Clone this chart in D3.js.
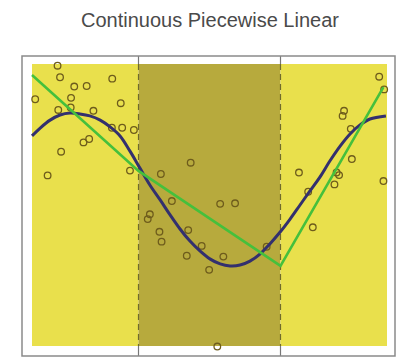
<!DOCTYPE html>
<html>
<head>
<meta charset="utf-8">
<script src="https://cdn.jsdelivr.net/npm/d3@7"></script>
<style>
  html, body { margin: 0; padding: 0; background: #ffffff; }
  svg { display: block; }
</style>
</head>
<body>
<svg id="chart" width="400" height="359"></svg>
<script>
// Observations (x, y)
const obsX = [0.072, 0.079, 0.009, 0.119, 0.154, 0.226, 0.110, 0.074, 0.109, 0.173,
              0.250, 0.225, 0.254, 0.287, 0.145, 0.161, 0.082, 0.044, 0.276, 0.363,
              0.447, 0.394, 0.530, 0.572, 0.332, 0.326, 0.359, 0.365, 0.440, 0.478,
              0.436, 0.539, 0.499, 0.661, 0.522, 0.978, 0.992, 0.879, 0.875, 0.898,
              0.901, 0.752, 0.858, 0.865, 0.990, 0.852, 0.778, 0.791];
const obsY = [9.94, 9.53, 8.75, 9.20, 9.22, 9.48, 8.80, 8.37, 8.46, 8.34,
              8.61, 7.74, 7.74, 7.66, 7.22, 7.34, 6.89, 6.05, 6.22, 6.10,
              6.50, 5.14, 5.04, 5.06, 4.67, 4.50, 4.05, 3.70, 4.11, 3.55,
              3.20, 3.17, 2.70, 3.52, -0.02, 9.55, 9.10, 8.34, 8.16, 7.70,
              6.63, 6.15, 6.15, 6.06, 5.85, 5.73, 5.47, 4.21];

// Underlying smooth function
const trueX = [0.000, 0.023, 0.051, 0.079, 0.107, 0.135, 0.163, 0.192, 0.220, 0.248,
               0.276, 0.304, 0.332, 0.361, 0.389, 0.417, 0.445, 0.473, 0.501, 0.530,
               0.558, 0.586, 0.614, 0.642, 0.670, 0.699, 0.727, 0.755, 0.783, 0.811,
               0.839, 0.868, 0.896, 0.924, 0.952, 0.997];
const trueY = [7.45, 7.73, 8.01, 8.19, 8.26, 8.23, 8.16, 8.01, 7.77, 7.45,
               6.91, 6.31, 5.71, 5.18, 4.65, 4.15, 3.72, 3.37, 3.09, 2.91,
               2.84, 2.87, 3.01, 3.26, 3.62, 4.04, 4.50, 5.00, 5.50, 5.99,
               6.56, 7.09, 7.52, 7.84, 8.05, 8.16];

// Continuous piecewise-linear fit: values at the ends and at the knots
const fitX = [0.00, 0.30, 0.70, 0.99];
const fitY = [9.61, 6.21, 2.84, 9.18];

// Knot positions
const knots = [0.30, 0.70];

const title = "Continuous Piecewise Linear";

const svg = d3.select("#chart");

const frame = { left: 22, top: 56, right: 395, bottom: 356 };
const x = d3.scaleLinear().domain([0, 1]).range([32, 387]);
const y = d3.scaleLinear().domain([0, 10]).range([346, 64]);

// Title
svg.append("text")
  .attr("x", 210).attr("y", 27)
  .attr("text-anchor", "middle")
  .attr("font-family", "'Liberation Sans', Arial, sans-serif")
  .attr("font-size", 20)
  .attr("fill", "#4a4a4a")
  .text(title);

// Region shading: outer regions light, middle region darker
const regions = [[0, knots[0]], [knots[0], knots[1]], [knots[1], 1]];
svg.selectAll("rect.region")
  .data(regions)
  .join("rect")
  .attr("class", "region")
  .attr("x", d => x(d[0]))
  .attr("y", y(10))
  .attr("width", d => x(d[1]) - x(d[0]))
  .attr("height", y(0) - y(10))
  .attr("fill", (d, i) => i === 1 ? "#b7aa3d" : "#e9e04c");

// Knot lines: solid in the margins, dashed across the shaded area
knots.forEach(k => {
  const kx = x(k);
  svg.append("line")
    .attr("x1", kx).attr("x2", kx).attr("y1", frame.top).attr("y2", y(10))
    .attr("stroke", "#777").attr("stroke-width", 1.2);
  svg.append("line")
    .attr("x1", kx).attr("x2", kx).attr("y1", y(0)).attr("y2", frame.bottom)
    .attr("stroke", "#777").attr("stroke-width", 1.2);
  svg.append("line")
    .attr("x1", kx).attr("x2", kx).attr("y1", y(10)).attr("y2", y(0))
    .attr("stroke", "#6f6a2c").attr("stroke-width", 1.2)
    .attr("stroke-dasharray", "6,4");
});

// Frame
svg.append("rect")
  .attr("x", frame.left).attr("y", frame.top)
  .attr("width", frame.right - frame.left)
  .attr("height", frame.bottom - frame.top)
  .attr("fill", "none")
  .attr("stroke", "#8a8a8a")
  .attr("stroke-width", 1.5);

// Data points
svg.selectAll("circle.obs")
  .data(obsX.map((v, i) => [v, obsY[i]]))
  .join("circle")
  .attr("class", "obs")
  .attr("cx", d => x(d[0]))
  .attr("cy", d => y(d[1]))
  .attr("r", 3.3)
  .attr("fill", "none")
  .attr("stroke", "#6e5c1c")
  .attr("stroke-width", 1.3);

// True function
const smooth = d3.line().x(d => x(d[0])).y(d => y(d[1])).curve(d3.curveCatmullRom);
svg.append("path")
  .attr("d", smooth(trueX.map((v, i) => [v, trueY[i]])))
  .attr("fill", "none")
  .attr("stroke", "#33306e")
  .attr("stroke-width", 3);

// Piecewise-linear fit
const straight = d3.line().x(d => x(d[0])).y(d => y(d[1]));
svg.append("path")
  .attr("d", straight(fitX.map((v, i) => [v, fitY[i]])))
  .attr("fill", "none")
  .attr("stroke", "#45c03c")
  .attr("stroke-width", 2.6);
</script>
</body>
</html>
